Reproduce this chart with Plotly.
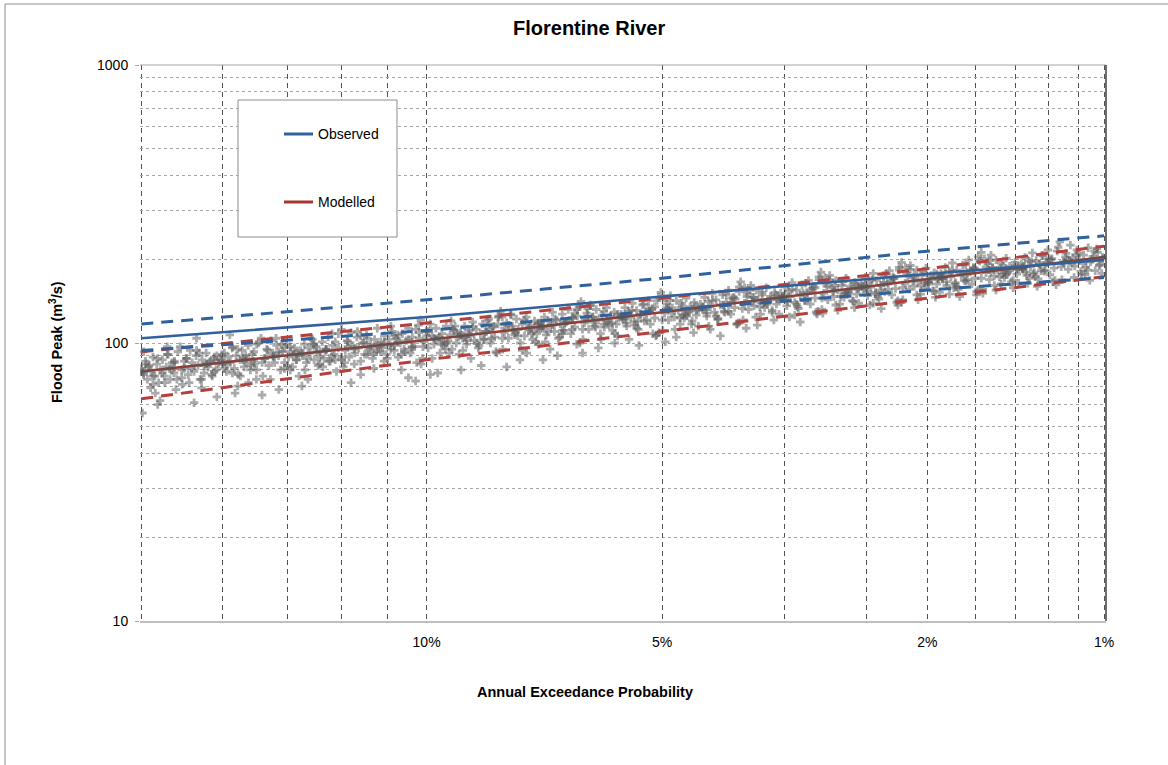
import plotly.graph_objects as go
from statistics import NormalDist

# ---------------- data ----------------
title_text = "Florentine River"
x_title = "Annual Exceedance Probability"
y_title = "Flood Peak (m<sup>3</sup>/s)"

# quantile curves: AEP (%) -> flood peak (m3/s)
curve_aep = [20, 10, 5, 2, 1]
obs_median = [104, 124, 147, 177, 199]
obs_upper = [117, 143, 171, 214, 243]
obs_lower = [94, 111, 131, 155, 172]
mod_median = [79, 102.5, 129, 170, 204]
mod_upper = [93, 118, 145, 185, 223]
mod_lower = [63, 87, 110, 145, 173]

# Monte-Carlo simulated peaks, part A (AEP %, flood peak)
sim_aep_a = [
    19.95, 19.8, 19.5, 19.3, 19.0, 18.8, 18.6, 19.9, 19.6, 19.1, 18.9, 18.5, 19.7, 19.4, 18.7, 19.95, 19.2, 18.9, 19.5, 18.6, 19.9, 19.3,
    18.3, 18.1, 17.9, 17.7, 17.5, 17.3, 17.0, 16.9, 18.2, 17.8, 17.4, 17.1, 18.0, 17.6, 17.2, 16.9, 18.3, 17.7, 17.0, 17.5,
    16.7, 16.5, 16.3, 16.1, 15.9, 15.7, 15.5, 15.4, 16.6, 16.2, 15.8, 15.6, 16.4, 16.0, 15.5, 16.7, 16.1, 15.8, 16.3, 15.4,
    15.2, 15.0, 14.8, 14.6, 14.4, 14.2, 14.0, 13.9, 15.1, 14.7, 14.3, 14.1, 14.9, 14.5, 14.0, 15.2, 14.6, 14.2, 14.8, 14.4,
    13.8, 13.6, 13.4, 13.2, 13.0, 12.8, 12.7, 13.7, 13.3, 12.9, 13.5, 13.1, 12.6, 13.8, 13.2, 12.8, 13.6, 13.0, 12.7, 13.4,
    12.5, 12.3, 12.1, 11.9, 11.7, 11.5, 11.4, 12.4, 12.0, 11.6, 12.2, 11.8, 11.3, 12.5, 11.9, 11.5, 12.3, 11.7, 11.4, 12.1,
    11.2, 11.0, 10.9, 10.7, 10.5, 10.4, 10.2, 11.1, 10.8, 10.6, 10.3, 11.2, 10.9, 10.5, 10.2, 11.0, 10.7, 10.4, 10.8, 10.3,
    10.1, 9.95, 9.8, 9.7, 9.55, 9.4, 9.25, 10.0, 9.85, 9.6, 9.35, 9.2, 10.15, 9.75, 9.5, 9.3, 9.9, 9.65, 9.45, 9.15,
    9.1, 8.95, 8.8, 8.65, 8.5, 8.35, 8.2, 9.05, 8.9, 8.7, 8.45, 8.25, 9.0, 8.6, 8.4, 8.2, 8.85, 8.55, 8.3, 9.1,
    8.1, 7.95, 7.85, 7.7, 7.6, 7.45, 7.3, 8.05, 7.9, 7.65, 7.4, 7.3, 8.0, 7.75, 7.5, 7.35, 8.1, 7.8, 7.55, 7.3,
    7.2, 7.1, 6.95, 6.85, 6.75, 6.6, 6.5, 7.15, 7.0, 6.8, 6.55, 6.45, 7.25, 6.9, 6.7, 6.5, 7.05, 6.8, 6.6, 7.2,
    6.4, 6.3, 6.2, 6.1, 6.0, 5.9, 5.8, 6.35, 6.25, 6.05, 5.85, 5.75, 6.4, 6.15, 5.95, 5.75, 6.3, 6.0, 5.8, 6.2,
    5.68, 5.6, 5.5, 5.42, 5.35, 5.25, 5.12, 5.05, 5.65, 5.45, 5.3, 5.15, 5.62, 5.38, 5.2, 5.08, 5.55, 5.4, 5.22, 5.1,
    5.0, 4.93, 4.85, 4.78, 4.7, 4.62, 4.55, 4.48, 4.97, 4.8, 4.65, 4.5, 4.95, 4.72, 4.58, 4.45, 4.88, 4.68, 4.52, 4.9,
    4.4, 4.33, 4.25, 4.18, 4.1, 4.03, 3.96, 3.9, 4.38, 4.2, 4.06, 3.92, 4.35, 4.14, 4.0, 3.89, 4.28, 4.08, 3.94, 4.3,
    3.85, 3.79, 3.72, 3.66, 3.6, 3.54, 3.48, 3.42, 3.82, 3.68, 3.56, 3.44, 3.8, 3.63, 3.5, 3.4, 3.75, 3.58, 3.46, 3.7,
    3.36, 3.3, 3.25, 3.19, 3.13, 3.08, 3.02, 2.97, 3.33, 3.2, 3.1, 2.99, 3.35, 3.16, 3.05, 2.96, 3.28, 3.11, 3.0, 3.22,
    2.93, 2.88, 2.82, 2.77, 2.72, 2.67, 2.62, 2.58, 2.9, 2.79, 2.69, 2.6, 2.92, 2.74, 2.64, 2.57, 2.85, 2.7, 2.61, 2.8,
    2.54, 2.49, 2.45, 2.4, 2.35, 2.31, 2.27, 2.23, 2.52, 2.42, 2.33, 2.24, 2.5, 2.37, 2.29, 2.22, 2.47, 2.38, 2.26, 2.44,
    2.19, 2.15, 2.11, 2.07, 2.03, 1.99, 1.95, 1.92, 2.17, 2.08, 2.0, 1.93, 2.2, 2.05, 1.97, 1.91, 2.13, 2.02, 1.94, 2.1,
    1.9, 1.86, 1.82, 1.79, 1.75, 1.72, 1.68, 1.65, 1.88, 1.8, 1.73, 1.66, 1.89, 1.77, 1.7, 1.64, 1.84, 1.74, 1.67, 1.81,
    1.63, 1.6, 1.57, 1.54, 1.51, 1.48, 1.45, 1.42, 1.61, 1.55, 1.49, 1.43, 1.62, 1.52, 1.46, 1.41, 1.58, 1.5, 1.44, 1.56,
    1.39, 1.37, 1.34, 1.32, 1.3, 1.27, 1.25, 1.22, 1.38, 1.33, 1.28, 1.23, 1.39, 1.31, 1.26, 1.21, 1.36, 1.29, 1.24, 1.35,
    1.19, 1.17, 1.15, 1.13, 1.11, 1.09, 1.07, 1.05, 1.03, 1.01, 1.18, 1.12, 1.06, 1.02, 1.16, 1.1, 1.04, 1.14, 1.08, 1.005,
]
sim_q_a = [
    79, 84, 76, 88, 72, 81, 86, 93, 69, 78, 91, 74, 82, 66, 80, 56, 62, 97, 71, 85, 77, 60,
    75, 88, 81, 94, 69, 84, 79, 90, 86, 61, 83, 77, 72, 92, 85, 64, 80, 104, 87, 74,
    91, 84, 78, 95, 88, 72, 86, 99, 81, 66, 90, 83, 107, 76, 93, 87, 70, 85, 97, 80,
    85, 94, 89, 68, 81, 97, 92, 76, 88, 104, 83, 91, 74, 99, 87, 65, 93, 80, 90, 96,
    92, 88, 98, 84, 95, 90, 101, 80, 93, 86, 104, 82, 96, 70, 89, 108, 74, 94, 87, 99,
    89, 101, 95, 77, 104, 92, 98, 85, 110, 96, 72, 100, 93, 87, 106, 81, 97, 91, 113, 84,
    100, 95, 106, 91, 103, 97, 109, 88, 101, 93, 112, 86, 98, 75, 104, 115, 80, 96, 107, 73,
    97, 110, 104, 78, 101, 92, 115, 106, 88, 99, 120, 108, 84, 103, 95, 112, 77, 105, 100, 91,
    107, 102, 114, 98, 110, 104, 117, 94, 108, 100, 120, 93, 105, 83, 112, 124, 88, 103, 115, 80,
    104, 116, 111, 87, 121, 108, 99, 113, 126, 94, 110, 118, 82, 106, 114, 101, 124, 109, 92, 117,
    115, 110, 122, 105, 118, 112, 125, 101, 116, 108, 128, 100, 113, 90, 120, 132, 95, 111, 123, 87,
    112, 125, 119, 96, 130, 116, 108, 122, 136, 103, 118, 127, 92, 114, 121, 106, 133, 117, 100, 124,
    124, 118, 131, 113, 127, 121, 135, 109, 125, 116, 138, 108, 122, 98, 130, 142, 103, 120, 133, 106,
    121, 134, 128, 105, 139, 125, 117, 131, 145, 112, 127, 136, 101, 123, 130, 115, 142, 126, 109, 133,
    134, 128, 142, 122, 137, 130, 146, 118, 135, 125, 149, 117, 132, 106, 140, 153, 112, 129, 144, 115,
    133, 147, 141, 116, 152, 138, 129, 144, 158, 124, 140, 149, 113, 135, 143, 127, 155, 139, 121, 146,
    147, 141, 156, 135, 151, 144, 160, 130, 149, 138, 164, 129, 145, 119, 154, 169, 124, 142, 158, 126,
    145, 160, 153, 131, 166, 150, 141, 157, 172, 137, 152, 163, 128, 147, 156, 139, 169, 151, 134, 161,
    160, 153, 169, 147, 165, 156, 173, 142, 161, 150, 177, 140, 158, 133, 167, 183, 137, 155, 171, 139,
    158, 174, 167, 143, 180, 163, 154, 171, 187, 149, 166, 177, 140, 161, 169, 152, 184, 165, 146, 175,
    173, 166, 182, 159, 178, 169, 187, 155, 175, 163, 191, 153, 171, 147, 180, 197, 150, 168, 185, 158,
    171, 188, 180, 155, 194, 176, 166, 184, 201, 161, 179, 190, 151, 173, 182, 164, 198, 177, 158, 186,
    187, 180, 196, 173, 192, 183, 201, 168, 189, 177, 206, 166, 185, 160, 194, 214, 164, 182, 199, 171,
    188, 204, 197, 172, 211, 193, 183, 200, 218, 178, 196, 207, 168, 190, 199, 181, 214, 194, 176, 203,
]

# Monte-Carlo simulated peaks, part B (dense core of the cloud)
sim_aep_b = [
    19.98, 19.9, 19.82, 19.74, 19.66, 19.58, 19.5, 19.42, 19.34, 19.26, 19.18, 19.1, 19.02, 18.94, 18.86, 18.78, 18.7, 18.62, 18.54, 18.46,
    16.84, 16.92, 17.0, 17.08, 17.16, 17.24, 17.32, 17.4, 17.48, 17.56, 17.64, 17.72, 17.8, 17.88, 17.96, 18.04, 18.12, 18.2, 18.28, 18.36,
    16.76, 16.68, 16.61, 16.53, 16.46, 16.38, 16.31, 16.23, 16.16, 16.08, 16.01, 15.93, 15.86, 15.78, 15.71, 15.63, 15.56, 15.48, 15.41, 15.33,
    13.91, 13.98, 14.05, 14.12, 14.19, 14.26, 14.33, 14.4, 14.47, 14.54, 14.61, 14.68, 14.75, 14.82, 14.89, 14.96, 15.03, 15.1, 15.17, 15.24,
    13.85, 13.78, 13.72, 13.65, 13.59, 13.52, 13.45, 13.39, 13.32, 13.26, 13.19, 13.12, 13.06, 12.99, 12.93, 12.86, 12.79, 12.73, 12.66, 12.6,
    11.36, 11.42, 11.48, 11.54, 11.6, 11.66, 11.72, 11.78, 11.84, 11.9, 11.96, 12.02, 12.08, 12.14, 12.2, 12.26, 12.32, 12.38, 12.44, 12.5,
    11.3, 11.24, 11.19, 11.13, 11.07, 11.02, 10.96, 10.9, 10.84, 10.79, 10.73, 10.67, 10.62, 10.56, 10.5, 10.45, 10.39, 10.33, 10.27, 10.22,
    9.17, 9.22, 9.27, 9.33, 9.38, 9.43, 9.48, 9.54, 9.59, 9.64, 9.69, 9.75, 9.8, 9.85, 9.9, 9.96, 10.01, 10.06, 10.11, 10.16,
    9.11, 9.06, 9.01, 8.96, 8.91, 8.86, 8.81, 8.77, 8.72, 8.67, 8.62, 8.57, 8.52, 8.47, 8.42, 8.38, 8.33, 8.28, 8.23, 8.18,
    7.29, 7.33, 7.38, 7.42, 7.47, 7.51, 7.56, 7.6, 7.65, 7.69, 7.74, 7.78, 7.82, 7.87, 7.91, 7.96, 8.0, 8.05, 8.09, 8.14,
    7.25, 7.21, 7.17, 7.13, 7.09, 7.04, 7.0, 6.96, 6.92, 6.88, 6.84, 6.8, 6.76, 6.72, 6.68, 6.63, 6.59, 6.55, 6.51, 6.47,
    5.73, 5.77, 5.81, 5.84, 5.88, 5.92, 5.95, 5.99, 6.03, 6.06, 6.1, 6.14, 6.17, 6.21, 6.25, 6.28, 6.32, 6.36, 6.39, 6.43,
    5.69, 5.66, 5.62, 5.59, 5.56, 5.52, 5.49, 5.46, 5.42, 5.39, 5.36, 5.32, 5.29, 5.26, 5.22, 5.19, 5.16, 5.12, 5.09, 5.06,
    4.45, 4.48, 4.51, 4.54, 4.57, 4.6, 4.63, 4.66, 4.69, 4.72, 4.75, 4.78, 4.81, 4.84, 4.87, 4.9, 4.93, 4.96, 4.99, 5.02,
    4.42, 4.39, 4.36, 4.33, 4.31, 4.28, 4.25, 4.22, 4.2, 4.17, 4.14, 4.11, 4.09, 4.06, 4.03, 4.0, 3.98, 3.95, 3.92, 3.89,
    3.4, 3.43, 3.45, 3.48, 3.5, 3.53, 3.55, 3.57, 3.6, 3.62, 3.65, 3.67, 3.7, 3.72, 3.74, 3.77, 3.79, 3.82, 3.84, 3.87,
    3.38, 3.36, 3.33, 3.31, 3.29, 3.27, 3.25, 3.22, 3.2, 3.18, 3.16, 3.14, 3.11, 3.09, 3.07, 3.05, 3.03, 3.0, 2.98, 2.96,
    2.57, 2.59, 2.61, 2.63, 2.65, 2.67, 2.69, 2.71, 2.73, 2.75, 2.77, 2.79, 2.81, 2.83, 2.85, 2.87, 2.89, 2.91, 2.93, 2.94,
    2.55, 2.53, 2.51, 2.49, 2.48, 2.46, 2.44, 2.42, 2.41, 2.39, 2.37, 2.35, 2.34, 2.32, 2.3, 2.28, 2.27, 2.25, 2.23, 2.22,
    1.92, 1.93, 1.95, 1.96, 1.98, 1.99, 2.01, 2.02, 2.04, 2.05, 2.07, 2.08, 2.1, 2.11, 2.13, 2.14, 2.16, 2.17, 2.19, 2.2,
    1.9, 1.89, 1.87, 1.86, 1.84, 1.83, 1.82, 1.8, 1.79, 1.78, 1.76, 1.75, 1.73, 1.72, 1.71, 1.69, 1.68, 1.67, 1.66, 1.65,
    1.41, 1.42, 1.43, 1.44, 1.46, 1.47, 1.48, 1.49, 1.5, 1.51, 1.53, 1.54, 1.55, 1.56, 1.57, 1.58, 1.59, 1.6, 1.62, 1.63,
    1.395, 1.385, 1.375, 1.365, 1.355, 1.345, 1.335, 1.325, 1.315, 1.305, 1.295, 1.285, 1.275, 1.265, 1.255, 1.245, 1.235, 1.225, 1.215, 1.205,
    1.007, 1.017, 1.027, 1.037, 1.047, 1.057, 1.067, 1.077, 1.087, 1.097, 1.107, 1.117, 1.127, 1.137, 1.147, 1.157, 1.167, 1.177, 1.187, 1.197,
]
sim_q_b = [
    81, 78, 86, 74, 83, 79, 89, 76, 84, 72, 80, 87, 76, 82, 91, 74, 85, 78, 68, 93,
    84, 80, 89, 76, 86, 82, 92, 78, 87, 74, 83, 90, 79, 85, 94, 77, 88, 81, 71, 97,
    87, 84, 92, 79, 89, 85, 96, 81, 90, 77, 87, 94, 82, 88, 98, 80, 91, 84, 74, 100,
    91, 87, 96, 82, 93, 89, 99, 85, 93, 80, 90, 98, 85, 92, 102, 83, 95, 88, 76, 104,
    94, 90, 99, 85, 96, 92, 103, 87, 97, 83, 93, 101, 88, 95, 105, 86, 98, 91, 79, 108,
    97, 93, 103, 88, 99, 95, 107, 91, 100, 86, 96, 105, 92, 98, 109, 89, 102, 94, 82, 112,
    101, 96, 106, 91, 103, 98, 110, 94, 104, 89, 100, 108, 95, 102, 113, 92, 105, 97, 85, 116,
    105, 100, 111, 95, 107, 102, 115, 98, 108, 92, 104, 113, 99, 106, 117, 96, 110, 101, 88, 121,
    109, 104, 115, 99, 111, 106, 119, 102, 112, 96, 108, 117, 103, 110, 122, 100, 114, 105, 92, 125,
    113, 108, 120, 103, 116, 111, 124, 106, 117, 100, 112, 122, 107, 115, 127, 104, 118, 109, 95, 130,
    118, 113, 124, 107, 120, 115, 129, 110, 121, 104, 117, 127, 111, 119, 132, 108, 123, 114, 99, 135,
    123, 117, 129, 111, 125, 119, 134, 114, 126, 108, 121, 132, 115, 124, 137, 112, 128, 118, 103, 141,
    127, 122, 134, 115, 130, 124, 139, 119, 131, 112, 126, 137, 120, 129, 142, 117, 133, 123, 107, 146,
    132, 126, 140, 120, 135, 129, 145, 123, 136, 117, 131, 142, 124, 134, 148, 121, 138, 128, 111, 152,
    138, 132, 146, 125, 141, 135, 151, 129, 143, 122, 137, 149, 130, 140, 155, 127, 145, 134, 117, 159,
    144, 138, 152, 131, 147, 141, 158, 134, 149, 127, 143, 155, 136, 146, 161, 132, 151, 139, 121, 166,
    151, 144, 159, 136, 154, 147, 165, 140, 155, 133, 149, 162, 142, 152, 168, 138, 157, 145, 127, 173,
    157, 150, 165, 142, 160, 153, 171, 146, 161, 138, 155, 168, 147, 158, 175, 143, 164, 151, 132, 180,
    163, 156, 172, 148, 166, 159, 178, 152, 168, 144, 161, 175, 153, 165, 182, 149, 170, 157, 137, 187,
    170, 163, 179, 154, 174, 166, 186, 158, 175, 150, 168, 183, 160, 172, 190, 156, 178, 164, 143, 195,
    178, 170, 187, 161, 181, 173, 194, 165, 183, 156, 176, 191, 167, 179, 199, 163, 185, 171, 149, 204,
    185, 177, 195, 168, 189, 180, 202, 172, 190, 163, 183, 199, 174, 187, 207, 169, 193, 179, 156, 212,
    193, 184, 203, 175, 197, 188, 211, 179, 198, 170, 191, 207, 181, 195, 216, 176, 201, 186, 162, 221,
    201, 192, 212, 182, 205, 196, 220, 187, 207, 177, 199, 216, 189, 203, 225, 184, 210, 194, 169, 231,
]

# axis ticks / grid
major_aep = [10, 5, 2, 1]
major_labels = ["10%", "5%", "2%", "1%"]
minor_ari = [5, 6, 7, 8, 9, 20, 30, 40, 60, 70, 80, 90]
y_major = [10, 100, 1000]
y_minor = [20, 30, 40, 50, 60, 70, 80, 90, 200, 300, 400, 500, 600, 700, 800, 900]

legend_items = ["Observed", "Modelled"]

# ---------------- helpers ----------------
nd = NormalDist()


def zpos(aep_pct):
    """Normal probability scale position of an AEP given in percent."""
    return nd.inv_cdf(1 - aep_pct / 100.0)


BLUE = "#31619C"
RED = "#B3403C"
RED_DARK = "#A4352F"
FONT = "Liberation Sans, Arial, sans-serif"
VGRID = "#505050"

cx = [zpos(a) for a in curve_aep]
sim_aep = sim_aep_a + sim_aep_b
sim_q = sim_q_a + sim_q_b

fig = go.Figure()

fig.add_trace(go.Scatter(x=cx, y=mod_median, mode="lines",
                         line=dict(color=RED_DARK, width=2.6)))
fig.add_trace(go.Scatter(x=[zpos(a) for a in sim_aep], y=sim_q, mode="markers",
                         marker=dict(symbol="cross", size=7, color="rgba(85,85,85,0.5)",
                                     line=dict(width=0))))
fig.add_trace(go.Scatter(x=cx, y=mod_upper, mode="lines",
                         line=dict(color=RED, width=3, dash="12px,8px")))
fig.add_trace(go.Scatter(x=cx, y=mod_lower, mode="lines",
                         line=dict(color=RED, width=3, dash="12px,8px")))
fig.add_trace(go.Scatter(x=cx, y=obs_upper, mode="lines",
                         line=dict(color=BLUE, width=3, dash="12px,8px")))
fig.add_trace(go.Scatter(x=cx, y=obs_lower, mode="lines",
                         line=dict(color=BLUE, width=3, dash="12px,8px")))
fig.add_trace(go.Scatter(x=cx, y=obs_median, mode="lines",
                         line=dict(color=BLUE, width=2.6)))

x_range = [zpos(20) - 0.002, zpos(1) + 0.003]

fig.update_xaxes(
    range=x_range, tickmode="array",
    tickvals=[zpos(a) for a in major_aep], ticktext=major_labels,
    ticks="", ticklabelstandoff=8,
    tickfont=dict(family=FONT, size=14, color="#000000"),
    showgrid=True, gridcolor=VGRID, gridwidth=1, griddash="5px,4px",
    minor=dict(tickvals=[zpos(100.0 / r) for r in minor_ari], showgrid=True,
               gridcolor=VGRID, gridwidth=1, griddash="5px,4px", ticks=""),
    showline=True, linecolor="#BFBFBF", linewidth=1.5,
    zeroline=False,
)
fig.update_yaxes(
    type="log", range=[1, 3], tickmode="array",
    tickvals=y_major, ticktext=[str(v) for v in y_major],
    ticks="outside", ticklen=4, tickcolor="#A6A6A6", ticklabelstandoff=4,
    tickfont=dict(family=FONT, size=14, color="#000000"),
    showgrid=True, gridcolor="#A6A6A6", gridwidth=1, griddash="3px,3px",
    minor=dict(tickvals=y_minor, showgrid=True, gridcolor="#A6A6A6",
               gridwidth=1, griddash="3px,3px", ticks=""),
    showline=False, zeroline=False,
)

PW, PH = 966.0, 556.0  # plot area size in px


def px_x(px):
    return (px - 140) / PW


def px_y(py):
    return (621 - py) / PH


shapes = [
    dict(type="rect", xref="paper", yref="paper", x0=px_x(5), x1=px_x(1200),
         y0=px_y(800), y1=px_y(4), line=dict(color="#8C8C8C", width=1), layer="below"),
    dict(type="line", xref="paper", yref="paper", x0=0, x1=1, y0=1, y1=1,
         line=dict(color="#A6A6A6", width=1.2)),
    dict(type="line", xref="paper", yref="paper", x0=1, x1=1, y0=0, y1=1,
         line=dict(color="#404040", width=1.5)),
    dict(type="rect", xref="paper", yref="paper", x0=px_x(238), x1=px_x(397),
         y0=px_y(237), y1=px_y(100), fillcolor="white",
         line=dict(color="#8C8C8C", width=1), layer="above"),
    dict(type="line", xref="paper", yref="paper", x0=px_x(284), x1=px_x(313),
         y0=px_y(134), y1=px_y(134), line=dict(color=BLUE, width=3), layer="above"),
    dict(type="line", xref="paper", yref="paper", x0=px_x(284), x1=px_x(313),
         y0=px_y(202), y1=px_y(202), line=dict(color=RED_DARK, width=3), layer="above"),
]

annotations = [
    dict(text="<b>" + title_text + "</b>", xref="paper", yref="paper",
         x=px_x(589), y=px_y(28), xanchor="center", yanchor="middle", showarrow=False,
         font=dict(family=FONT, size=20, color="#000000")),
    dict(text="<b>" + x_title + "</b>", xref="paper", yref="paper",
         x=px_x(585), y=px_y(692), xanchor="center", yanchor="middle", showarrow=False,
         font=dict(family=FONT, size=14.5, color="#000000")),
    dict(text="<b>" + y_title + "</b>", xref="paper", yref="paper",
         x=px_x(56), y=px_y(342), xanchor="center", yanchor="middle", showarrow=False,
         textangle=-90, font=dict(family=FONT, size=14.5, color="#000000")),
    dict(text=legend_items[0], xref="paper", yref="paper", x=px_x(316), y=px_y(134),
         xanchor="left", yanchor="middle", showarrow=False,
         font=dict(family=FONT, size=14, color="#000000")),
    dict(text=legend_items[1], xref="paper", yref="paper", x=px_x(316), y=px_y(202),
         xanchor="left", yanchor="middle", showarrow=False,
         font=dict(family=FONT, size=14, color="#000000")),
]

fig.update_layout(
    width=1168, height=765,
    margin=dict(l=140, r=62, t=65, b=144),
    paper_bgcolor="white", plot_bgcolor="white",
    showlegend=False,
    font=dict(family=FONT, size=14, color="#000000"),
    shapes=shapes, annotations=annotations,
    hovermode=False,
)

fig.write_html("out.html",
               config={"displayModeBar": False, "staticPlot": True},
               post_script="document.body.style.margin='0px';document.body.style.padding='0px';")
